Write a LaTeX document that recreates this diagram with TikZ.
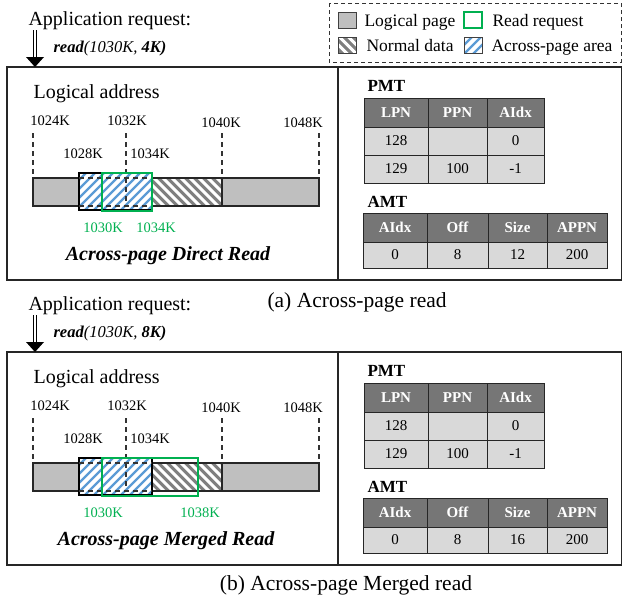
\documentclass[tikz,border=0pt]{standalone}
\usepackage{fontspec}
\setmainfont{Liberation Serif}
\usepackage{tikz}
\usetikzlibrary{calc}
\definecolor{pagegray}{HTML}{BFBFBF}
\definecolor{datagray}{HTML}{7F7F7F}
\definecolor{apblue}{HTML}{5B9BD5}
\definecolor{rqgreen}{HTML}{00B050}
\definecolor{hdgray}{HTML}{767676}
\definecolor{cellgray}{HTML}{D9D9D9}

\begin{document}
\begin{tikzpicture}[x=1pt,y=-1pt,
	big/.style={font=\fontsize{20}{24}\selectfont},
	req/.style={font=\fontsize{16.5}{20}\selectfont},
	lgd/.style={font=\fontsize{17.5}{21}\selectfont},
	num/.style={font=\fontsize{14.5}{17}\selectfont},
	ttl/.style={font=\fontsize{20}{24}\selectfont\bfseries\itshape},
	tname/.style={font=\fontsize{17}{20}\selectfont\bfseries},
	captxt/.style={font=\fontsize{21.5}{26}\selectfont},
	hcell/.style={draw=black!85, fill=hdgray, text=white, minimum height=29pt, inner sep=0pt, font=\fontsize{15}{18}\selectfont\bfseries},
	bcell/.style={draw=black!85, fill=cellgray, minimum height=28pt, inner sep=0pt, font=\fontsize{15}{18}\selectfont},
	swatch/.style={draw=black!75, line width=1pt, minimum width=18pt, minimum height=16pt, inner sep=0pt},
	panel/.style={draw=black!85, line width=1.2pt},
	tick/.style={black!80, line width=1.2pt, dash pattern=on 5pt off 4pt},
	shaft/.style={double, double distance=1.8pt, line width=0.8pt}]
	\useasboundingbox (0,0) rectangle (623,598);
	% legend
	\draw[black!80, line width=0.9pt, dash pattern=on 4pt off 3pt] (329,3) rectangle (621,62);
	\node[swatch, fill=pagegray] (swpage) at (347.5,20) {};
	\node[lgd, anchor=base west] (lgpage) at (361,26) {Logical page};
	\node[swatch, draw=rqgreen, line width=1.6pt, fill=white] (swreq) at (473,20) {};
	\node[lgd, anchor=base west] (lgreq) at (489,26) {Read request};
	\node[swatch, fill=datagray, path picture={
		\foreach \o in {-9,0,9}
			\draw[white, line width=3pt] ([xshift=\o pt-10pt, yshift=10pt]path picture bounding box.center) -- ([xshift=\o pt+10pt, yshift=-10pt]path picture bounding box.center);
		}] (swdata) at (347.5,45) {};
	\node[lgd, anchor=base west] (lgdata) at (363,51) {Normal data};
	\node[swatch, fill=white, path picture={
		\foreach \o in {-9,0,9}
			\draw[apblue, line width=2.2pt] ([xshift=\o pt-10pt, yshift=-10pt]path picture bounding box.center) -- ([xshift=\o pt+10pt, yshift=10pt]path picture bounding box.center);
		}] (swap) at (473,45) {};
	\node[lgd, anchor=base west] (lgap) at (488,51) {Across-page area};

	\foreach \dy/\p/\len/\rx/\glab/\gx/\title/\tx/\sz in {0/a/4K/152/1034K/156/Direct/168/12, 285/b/8K/198/1038K/200/Merged/166/16} {
	\begin{scope}[shift={(0,\dy)}]
		\draw[panel] (7,67) rectangle (621.5,280);
		\draw[panel] (338,67) -- (338,280);
		% request
		\node[big, anchor=base west] (rq\p) at (25,25) {Application request:};
		\node[req, anchor=base west] (rd\p) at (50,52) {\textbf{\textit{read}}\textit{(1030K, }\textbf{\textit{\len)}}};
		\coordinate (in\p) at (35,67);
		\draw[shaft] (35,30) -- ($(in\p)+(0,-9)$);
		\fill ($(in\p)+(-9,-10)$) -- ($(in\p)+(9,-10)$) -- (in\p) -- cycle;
		% logical address bar
		\node[big, anchor=base west] (la\p) at (30,98) {Logical address};
		\node[num, anchor=base] (k24\p) at (50,125) {1024K};
		\node[num, anchor=base] (k32\p) at (127,125) {1032K};
		\node[num, anchor=base] (k40\p) at (221,127) {1040K};
		\node[num, anchor=base] (k48\p) at (303,127) {1048K};
		\node[num, anchor=base] (k28\p) at (83,158) {1028K};
		\node[num, anchor=base] (k34\p) at (150,158) {1034K};
		\fill[pagegray] (33,178) rectangle (319,206);
		\fill[datagray] (152,178) rectangle (222,206);
		\begin{scope}
			\clip (152,178) rectangle (222,206);
			\foreach \s in {118,127,...,226}
				\draw[white, line width=3pt] (\s,178) -- ++(28,28);
		\end{scope}
		\draw[black!85, line width=1.1pt] (33,178) rectangle (319,206);
		\draw[black!85, line width=1.1pt] (222,178) -- (222,206);
		\fill[white] (79,173) rectangle (152,210);
		\begin{scope}
			\clip (79,173) rectangle (152,210);
			\foreach \s in {40,49,...,160}
				\draw[apblue, line width=2.2pt] (\s,210) -- ++(37,-37);
		\end{scope}
		\draw[black, line width=1.1pt] (79,173) rectangle (152,210);
		\draw[tick] (79,178) -- (152,178);
		\draw[tick] (79,206) -- (152,206);
		\draw[tick] (33,133) -- (33,178);
		\draw[tick] (126,133) -- (126,206);
		\draw[tick] (222,133) -- (222,178);
		\draw[tick] (319,133) -- (319,178);
		\draw[rqgreen, line width=1.8pt] (102,173) rectangle (\rx,211);
		\node[num, text=rqgreen, anchor=base] (g30\p) at (103,232) {1030K};
		\node[num, text=rqgreen, anchor=base] (g34\p) at (\gx,232) {\glab};
		\node[ttl, anchor=base] (tt\p) at (\tx,260) {Across-page \title\ Read};
		% tables
		\node[tname, anchor=base west] (pmt\p) at (364,91) {PMT};
		\foreach \cx/\w/\t in {396/64/LPN, 457.5/59/PPN, 515.5/57/AIdx}
			\node[hcell, minimum width=\w pt] (ph\t\p) at (\cx,112.5) {\t};
		\foreach \cx/\w/\u/\v [count=\i] in {396/64/128/129, 457.5/59//100, 515.5/57/0/-1} {
			\node[bcell, minimum width=\w pt] (pa\i\p) at (\cx,141) {\u};
			\node[bcell, minimum width=\w pt] (pb\i\p) at (\cx,169) {\v};
		}
		\node[tname, anchor=base west] (amt\p) at (364,207) {AMT};
		\foreach \cx/\w/\t/\u [count=\i] in {395/64/AIdx/0, 457.5/61/Off/8, 517.5/59/Size/\sz, 577/60/APPN/200} {
			\node[hcell, minimum width=\w pt] (ah\i\p) at (\cx,227.5) {\t};
			\node[bcell, minimum width=\w pt, minimum height=26pt] (ab\i\p) at (\cx,255) {\u};
		}
	\end{scope}
	}
	\node[captxt, anchor=base west] (capa) at (264,307) {(a) Across-page read};
	\node[captxt, anchor=base] (capb) at (346,590) {(b) Across-page Merged read};
\end{tikzpicture}
\end{document}
